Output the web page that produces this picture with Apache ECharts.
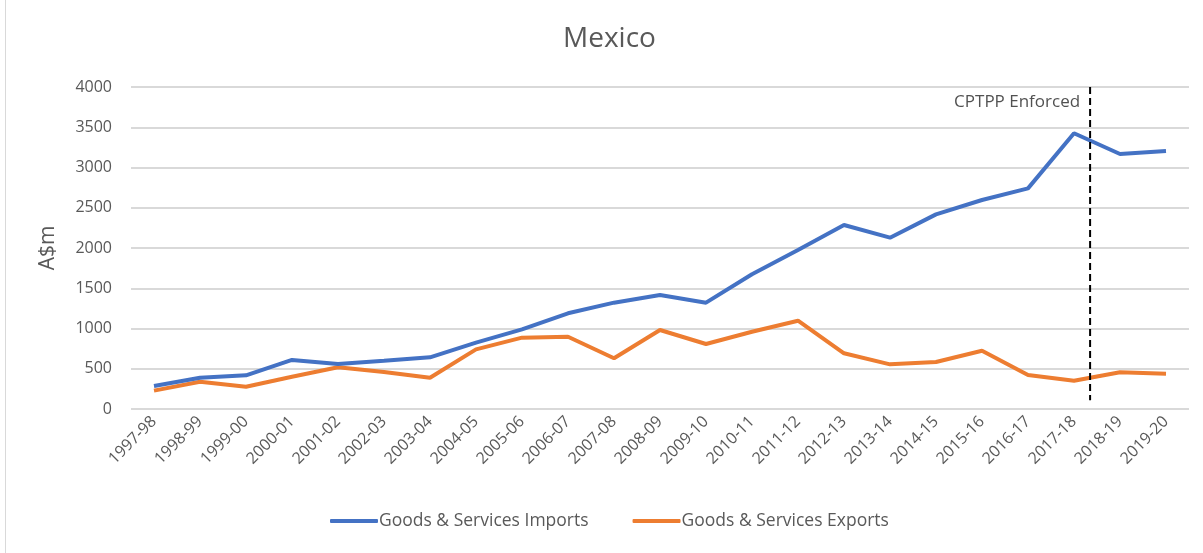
<!DOCTYPE html>
<html><head><meta charset="utf-8">
<script src="https://cdn.jsdelivr.net/npm/echarts@6/dist/echarts.min.js"></script>
<style>html,body{margin:0;padding:0;background:#fff}#c{width:1203px;height:553px}</style>
</head><body><div id="c"></div>
<script>
const categories = ["1997-98","1998-99","1999-00","2000-01","2001-02","2002-03","2003-04","2004-05","2005-06","2006-07","2007-08","2008-09","2009-10","2010-11","2011-12","2012-13","2013-14","2014-15","2015-16","2016-17","2017-18","2018-19","2019-20"];
const imports = [286,389,418,609,559,600,642,824,990,1189,1321,1416,1321,1673,1975,2286,2128,2418,2596,2741,3425,3168,3205];
const exportsArr = [228,339,277,401,518,460,389,741,886,898,630,981,807,960,1097,692,555,584,724,422,352,456,439];
const yTicks = [0,500,1000,1500,2000,2500,3000,3500,4000];
const enforcedPos = 20.35; // category index position of the CPTPP line
const enforcedLine = [[enforcedPos, 4000],[enforcedPos, 110]];
const FONT = '"Open Sans", "Noto Sans", sans-serif';
const TXT = '#595959';

const chart = echarts.init(document.getElementById('c'));
chart.setOption({
  animation: false,
  textStyle: {fontFamily: FONT},
  title: {text: 'Mexico', left: 558, top: 20, textStyle: {fontFamily: FONT, fontSize: 28, fontWeight: 'normal', color: TXT}},
  grid: {left: 131, right: 14, top: 87, bottom: 144},
  legend: {
    bottom: 18, left: 325, itemGap: 44, itemWidth: 48, itemHeight: 4,
    icon: 'roundRect',
    textStyle: {fontFamily: FONT, fontSize: 17.5, color: TXT, padding: [0,0,0,-4]},
    data: ['Goods & Services Imports','Goods & Services Exports']
  },
  xAxis: [{
    type: 'category', data: categories, boundaryGap: true,
    axisLine: {show: false}, axisTick: {show: false},
    axisLabel: {rotate: 45, interval: 0, fontSize: 16, color: TXT, fontFamily: FONT, margin: 10}
  },{
    type: 'value', min: -0.5, max: categories.length - 0.5, show: false
  }],
  yAxis: {
    type: 'value', min: yTicks[0], max: yTicks[yTicks.length-1], interval: 500,
    name: 'A$m', nameLocation: 'middle', nameGap: 72, nameRotate: 90,
    nameTextStyle: {fontSize: 21, color: TXT, fontFamily: FONT},
    axisLine: {show: false}, axisTick: {show: false},
    axisLabel: {fontSize: 16, color: TXT, fontFamily: FONT, margin: 19, formatter: v => String(v)},
    splitLine: {lineStyle: {color: '#d9d9d9', width: 2}}
  },
  series: [
    {name: 'Goods & Services Imports', type: 'line', data: imports, showSymbol: false, symbol: 'none',
     lineStyle: {color: '#4472C4', width: 4}, itemStyle: {color: '#4472C4'}, z: 3},
    {name: 'Goods & Services Exports', type: 'line', data: exportsArr, showSymbol: false, symbol: 'none',
     lineStyle: {color: '#ED7D31', width: 4}, itemStyle: {color: '#ED7D31'}, z: 2},
    {name: 'CPTPP', type: 'line', xAxisIndex: 1, data: enforcedLine, symbol: 'none',
     lineStyle: {color: '#000', width: 2, type: [7,4]}, z: 5},
    {name: 'CPTPP label', type: 'scatter', xAxisIndex: 1, data: [[enforcedPos, 3810]], symbolSize: 0,
     label: {show: true, position: 'left', distance: 10, formatter: 'CPTPP Enforced', fontSize: 17, color: '#262626', fontFamily: FONT}, silent: true}
  ],
  graphic: [{type: 'rect', shape: {x: 5, y: 0, width: 1, height: 553}, style: {fill: '#d9d9d9'}, silent: true}]
});
</script></body></html>
